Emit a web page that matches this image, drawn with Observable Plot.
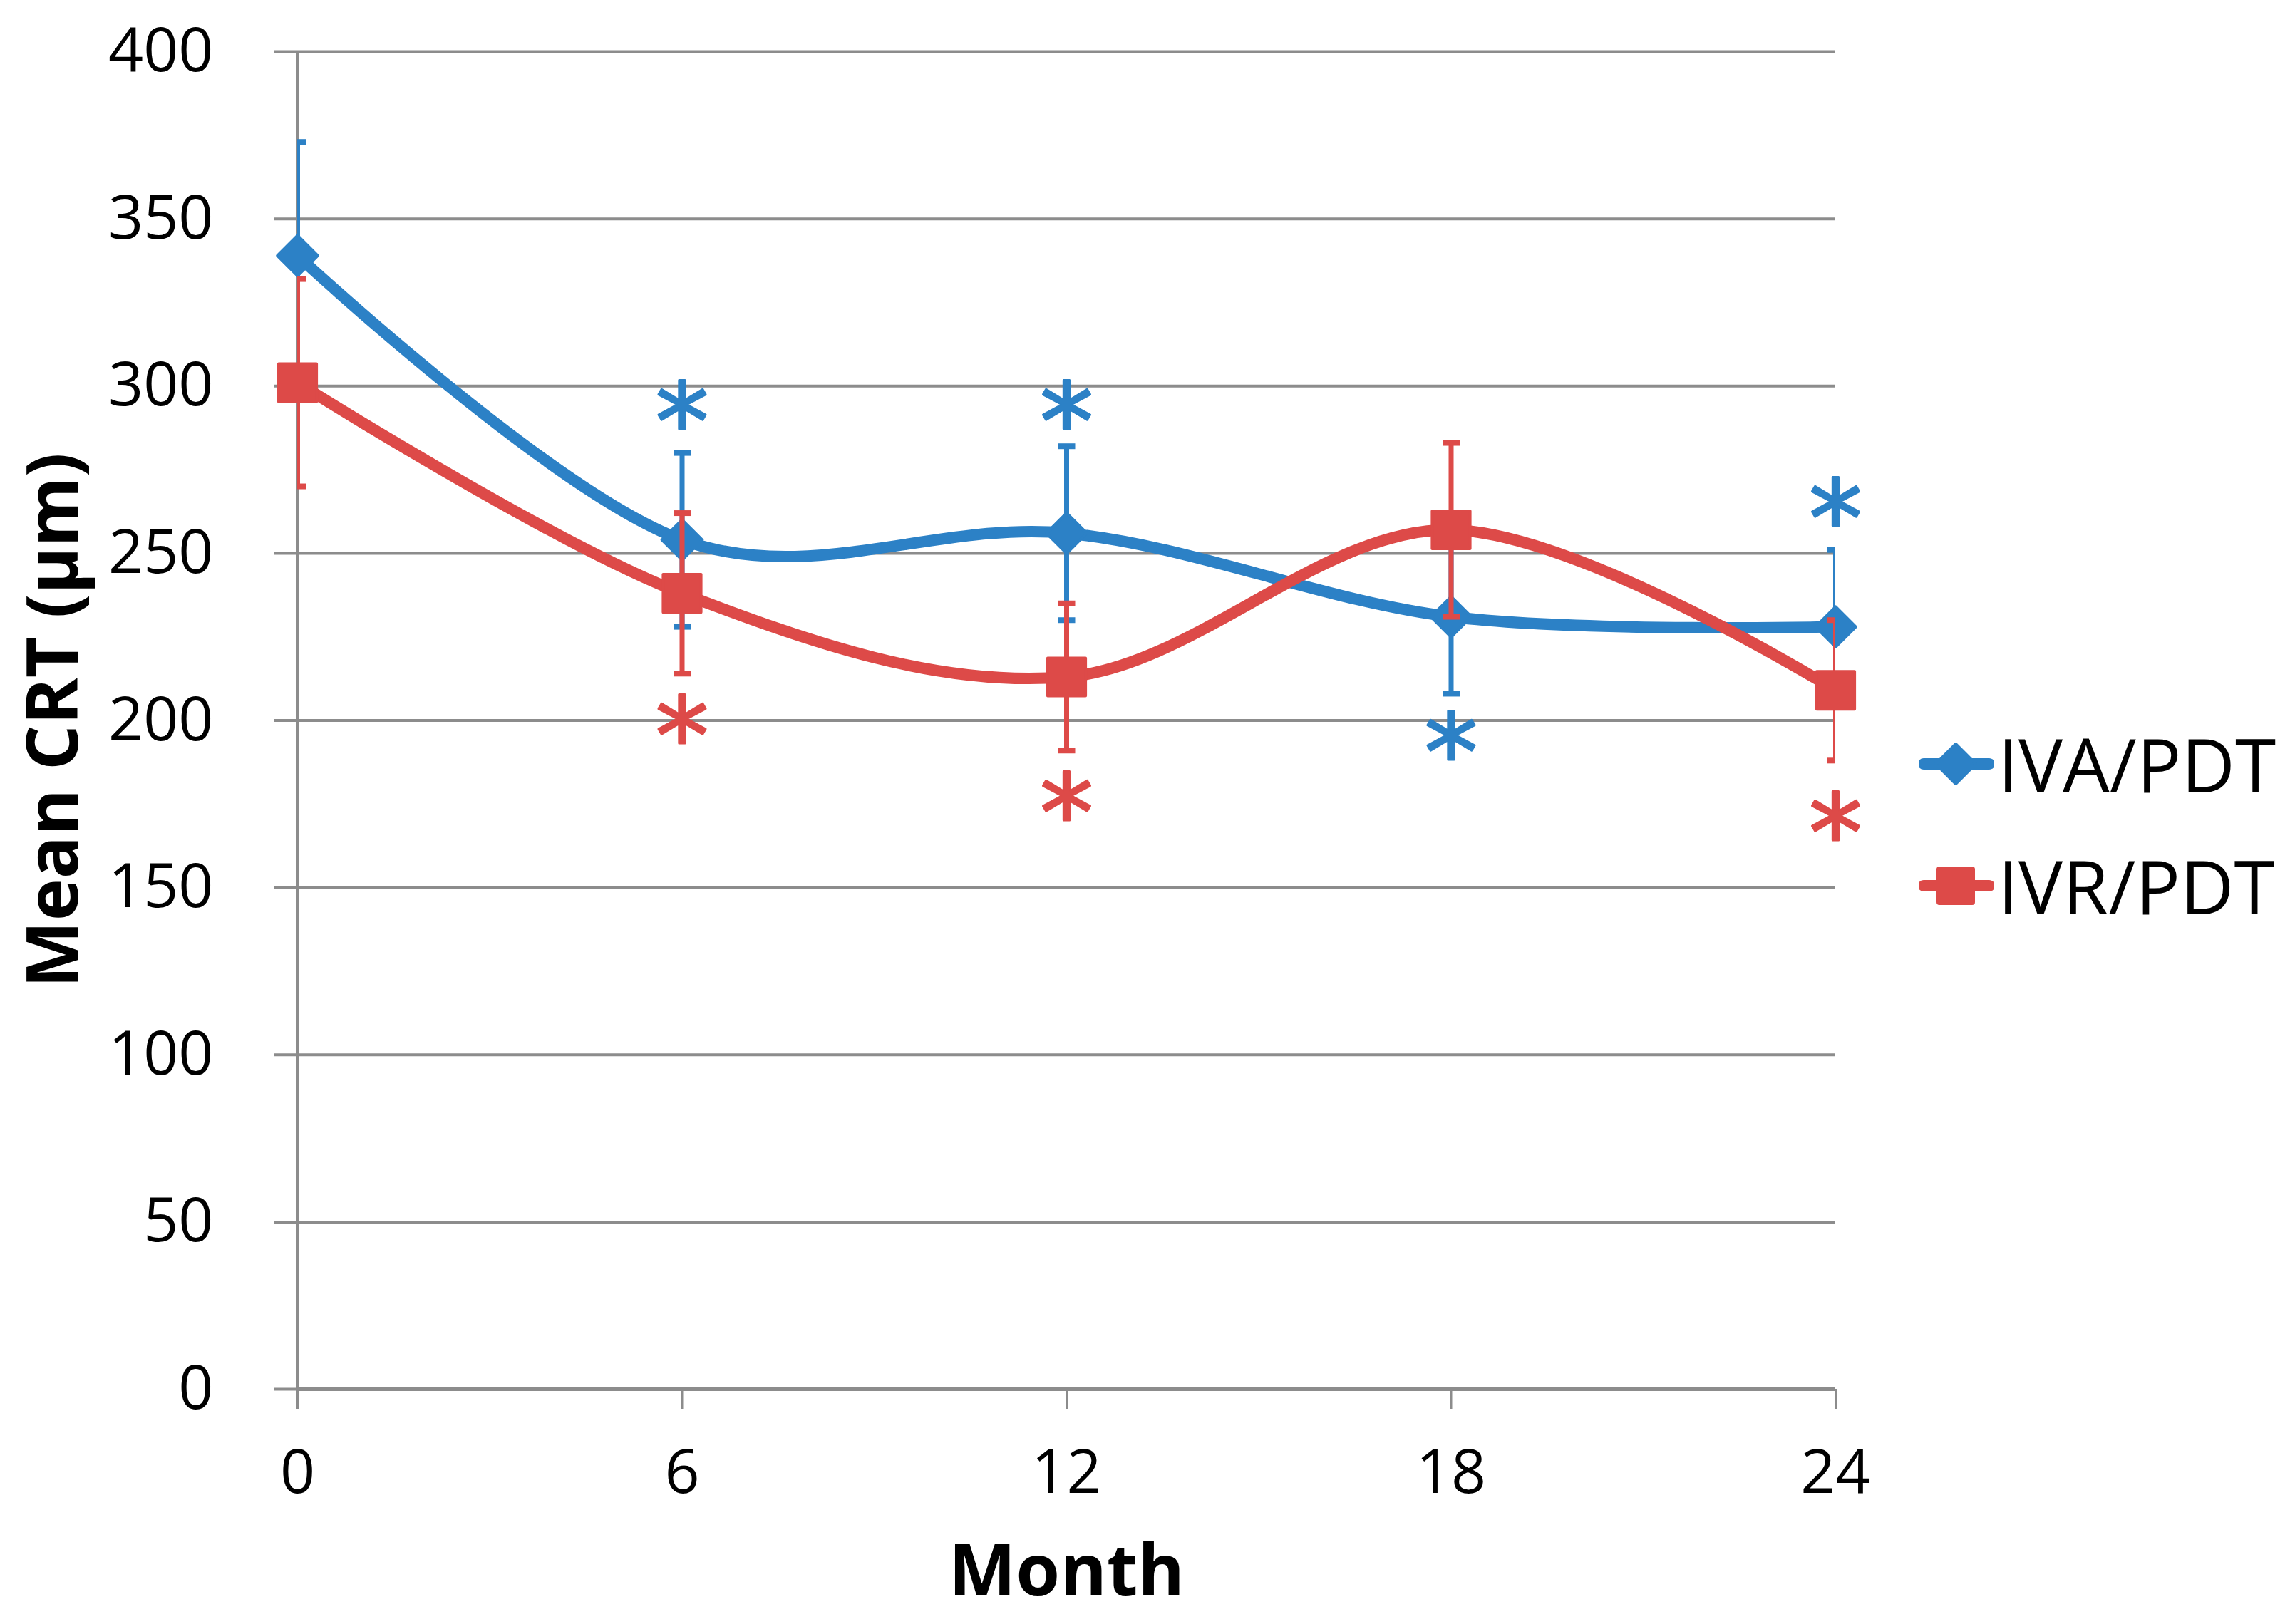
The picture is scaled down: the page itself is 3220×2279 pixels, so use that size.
<!DOCTYPE html>
<html><head><meta charset="utf-8">
<script src="https://cdn.jsdelivr.net/npm/d3@7"></script>
<script src="https://cdn.jsdelivr.net/npm/@observablehq/plot@0.6"></script>
<style>
html,body{margin:0;padding:0;background:#fff;}
#wrap{position:relative;width:3220px;height:2279px;overflow:hidden;}
.item{position:absolute;display:flex;align-items:center;font-family:"Open Sans";font-size:104px;line-height:1;color:#000;white-space:nowrap;}
.item svg{display:block;}
</style></head><body><div id="wrap"></div>
<script>
// ---- data ----
const months = [0, 6, 12, 18, 24];
const seriesNames = ["IVA/PDT", "IVR/PDT"];
const ivaMean = [339, 254, 256, 231, 228];
const ivaErr  = [34, 26, 26, 23, 23];
const ivrMean = [301, 238, 213, 257, 209];
const ivrErr  = [31, 24, 22, 26, 21];
const yTicks = [0, 50, 100, 150, 200, 250, 300, 350, 400];
const xTicks = [0, 6, 12, 18, 24];
// significance asterisks (month, series, y position in µm)
const starMonths = [6, 12, 24, 18, 6, 12, 24];
const starSeries = ["IVA/PDT", "IVA/PDT", "IVA/PDT", "IVA/PDT", "IVR/PDT", "IVR/PDT", "IVR/PDT"];
const starY      = [294, 294, 265, 195, 200, 177, 171];
const colors = ["#2c81c6", "#dd4a48"];
const yLabel = "Mean CRT (µm)";
const xLabel = "Month";

const gray = "#8c8c8c";
const rows = (means, errs, s) => months.map((m, i) => ({series: s, month: m, mean: means[i], lo: means[i] - errs[i], hi: means[i] + errs[i]}));
const rowsA = rows(ivaMean, ivaErr, seriesNames[0]);
const rowsR = rows(ivrMean, ivrErr, seriesNames[1]);
const stars = starMonths.map((m, i) => ({month: m, series: starSeries[i], y: starY[i]}));
const colorOf = s => colors[seriesNames.indexOf(s)];

const cap = {draw(ctx, size) { const w = Math.sqrt(size / Math.PI); ctx.moveTo(-w, 0); ctx.lineTo(w, 0); }};

function seriesMarks(data, color, symbol, r) {
  return [
    Plot.ruleX(data, {x: "month", y1: "lo", y2: "hi", stroke: color, strokeWidth: 7, clip: true}),
    Plot.dot(data, {x: "month", y: "hi", symbol: cap, r: 12, stroke: color, strokeWidth: 8, clip: true}),
    Plot.dot(data, {x: "month", y: "lo", symbol: cap, r: 12, stroke: color, strokeWidth: 8, clip: true}),
    Plot.line(data, {x: "month", y: "mean", curve: "cardinal", stroke: color, strokeWidth: 16, strokeLinejoin: "round", strokeLinecap: "round"}),
    Plot.dot(data, {x: "month", y: "mean", symbol, r, fill: color, stroke: color, strokeWidth: 4, strokeLinejoin: "round"})
  ];
}

const chart = Plot.plot({
  width: 3220,
  height: 2279,
  marginLeft: 417,
  marginRight: 645,
  marginTop: 72,
  marginBottom: 330,
  style: {background: "#fff", fontFamily: "Open Sans", color: "#000"},
  x: {domain: [0, 24]},
  y: {domain: [0, 400]},
  marks: [
    Plot.ruleY(yTicks.filter(d => d > 0), {stroke: gray, strokeWidth: 4}),
    Plot.ruleY([0], {stroke: gray, strokeWidth: 5}),
    Plot.ruleX([0], {stroke: gray, strokeWidth: 4}),
    Plot.axisY({ticks: yTicks, tickSize: 33, tickPadding: 85, fontSize: 86, fontFamily: "Open Sans", stroke: gray, strokeWidth: 4, fill: "#000", label: null}),
    Plot.axisX({ticks: xTicks, tickSize: 28, tickPadding: 56, fontSize: 86, fontFamily: "Open Sans", stroke: gray, strokeWidth: 3, fill: "#000", label: null}),
    Plot.text([yLabel], {frameAnchor: "left", textAnchor: "middle", rotate: -90, dx: -380, lineAnchor: "top", fontSize: 100, fontWeight: "bold", fontFamily: "Open Sans", fill: "#000"}),
    Plot.text([xLabel], {frameAnchor: "bottom", dy: 289, lineAnchor: "bottom", fontSize: 100, fontWeight: "bold", fontFamily: "Open Sans", fill: "#000"}),
    ...seriesMarks(rowsA, colors[0], "diamond2", 25.5),
    ...seriesMarks(rowsR, colors[1], "square", 30),
    Plot.text(stars, {x: "month", y: "y", text: () => "*", fill: d => colorOf(d.series), stroke: d => colorOf(d.series), strokeWidth: 3, fontSize: 150, fontFamily: "DejaVu Sans", lineAnchor: "middle", dy: 27})
  ]
});

const wrap = document.getElementById("wrap");
wrap.appendChild(chart);

// legend (HTML, to the right of the plot)
const legendY = [1072, 1243];
seriesNames.forEach((name, i) => {
  const item = document.createElement("div");
  item.className = "item";
  item.style.left = "2693px";
  item.style.top = (legendY[i] - 52) + "px";
  item.style.height = "104px";
  const c = colors[i];
  const marker = i === 0
    ? `<path d="M51,22 L79,50 L51,78 L23,50 Z" fill="${c}" stroke="${c}" stroke-width="4" stroke-linejoin="round"/>`
    : `<rect x="24" y="23" width="54" height="54" rx="4" fill="${c}"/>`;
  item.innerHTML = `<svg width="104" height="100" viewBox="0 0 104 100"><line x1="6" y1="50" x2="98" y2="50" stroke="${c}" stroke-width="16" stroke-linecap="round"/>${marker}</svg><span style="margin-left:6px">${name}</span>`;
  wrap.appendChild(item);
});
</script>
</body></html>
